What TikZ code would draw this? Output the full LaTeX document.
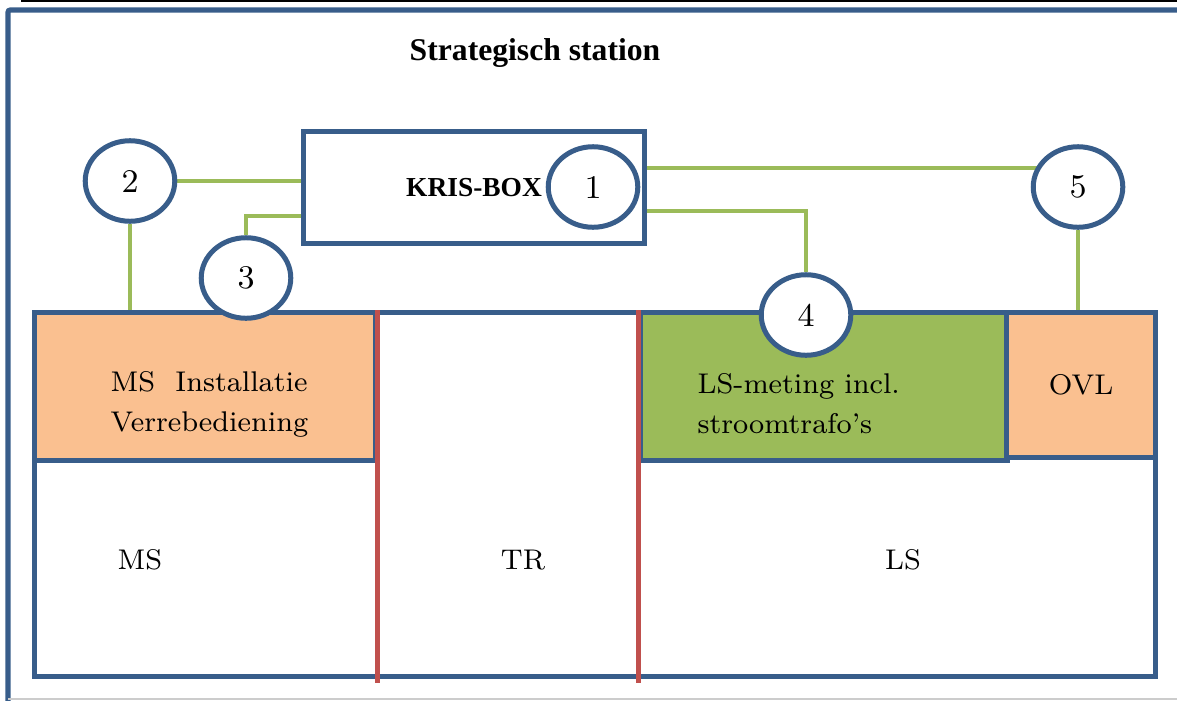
\documentclass[tikz,border=0pt]{standalone}
\usepackage{xcolor}
\usepackage{fontspec}
\newfontfamily\headfont{Liberation Serif}
\usepackage{tikz}
\usetikzlibrary{shapes.geometric,backgrounds}

\definecolor{frameblue}{RGB}{56,93,138}
\definecolor{linkgreen}{RGB}{155,187,89}
\definecolor{msorange}{RGB}{250,192,144}
\definecolor{splitred}{RGB}{192,80,77}

\begin{document}
\begin{tikzpicture}[x=0.01cm, y=-0.01cm,
  area/.style={draw=frameblue, line width=0.05cm, rectangle, inner sep=0pt},
  num/.style={draw=frameblue, fill=white, line width=0.05cm, ellipse, inner sep=0pt,
    minimum width=0.895cm, minimum height=0.805cm, font=\fontsize{9.4}{11}\selectfont},
  link/.style={linkgreen, line width=0.04cm},
  split/.style={splitred, line width=0.05cm},
  txt/.style={font=\fontsize{8.1}{11.4}\selectfont, align=left, inner sep=0pt},
  heading/.style={font=\headfont\bfseries\fontsize{9}{11}\selectfont, inner sep=0pt}]

  % Page size and the page frame
  \clip (0,0) rectangle (1177,700);
  \draw[line width=0.02cm] (21,0.8) -- (1177,0.8);
  \draw[frameblue, line width=0.05cm, rounded corners=0.02cm] (1200,10) -- (8,10) -- (8,720);
  \draw[gray!40, line width=0.015cm] (8,699) -- (1177,699);

  % Title
  \node[heading] (titel) at (535,53) {Strategisch station};

  % The station with its parts
  \node[area, minimum width=11.2cm, minimum height=3.63cm] (station) at (595,494.5) {};
  \node[area, fill=msorange, minimum width=3.4cm, minimum height=1.47cm] (msbox) at (205,386.5) {};
  \node[area, fill=linkgreen, minimum width=3.66cm, minimum height=1.47cm] (lsbox) at (824,386.5) {};
  \node[area, fill=msorange, minimum width=1.48cm, minimum height=1.44cm, txt] (ovl) at (1081,385) {OVL};

  % Red separators MS | TR | LS
  \draw[split] (msbox.north east) -- ([yshift=-0.04cm]msbox.east |- station.south);
  \draw[split] (lsbox.north west) -- ([yshift=-0.04cm]lsbox.west |- station.south);

  % Labels
  \node[txt, anchor=west] (mstxt) at (110,404) {MS~~Installatie\\Verrebediening};
  \node[txt, anchor=west] (lstxt) at (697,404) {LS-meting incl.\\stroomtrafo’s};
  \node[txt] (ms) at (140,560) {MS};
  \node[txt] (tr) at (523,560) {TR};
  \node[txt] (ls) at (903,560) {LS};

  % KRIS-BOX and the numbered points
  \node[area, minimum width=3.41cm, minimum height=1.11cm,
    font=\headfont\bfseries\fontsize{7.8}{9}\selectfont] (kris) at (474,187.5) {KRIS-BOX};
  \node[num] (c1) at (593,187) {1};
  \node[num] (c2) at (130,181) {2};
  \node[num] (c3) at (246,278) {3};
  \node[num] (c4) at (806,315) {4};
  \node[num] (c5) at (1078,187) {5};

  % Green connections, behind the circles
  \coordinate (k3) at ([yshift=-0.285cm]kris.west);
  \coordinate (k4) at ([yshift=-0.235cm]kris.east);
  \coordinate (k5) at ([yshift=0.195cm]kris.east);
  \begin{pgfonlayer}{background}
    \draw[link] (c2) -- (c2 -| kris.west);
    \draw[link] (c2) -- ([yshift=-0.03cm]c2 |- msbox.north);
    \draw[link] (c3) |- (k3);
    \draw[link] (k5) -- (k5 -| c5);
    \draw[link] (k4) -| (c4);
    \draw[link] (c5) -- ([yshift=-0.03cm]c5 |- ovl.north);
  \end{pgfonlayer}
\end{tikzpicture}
\end{document}
